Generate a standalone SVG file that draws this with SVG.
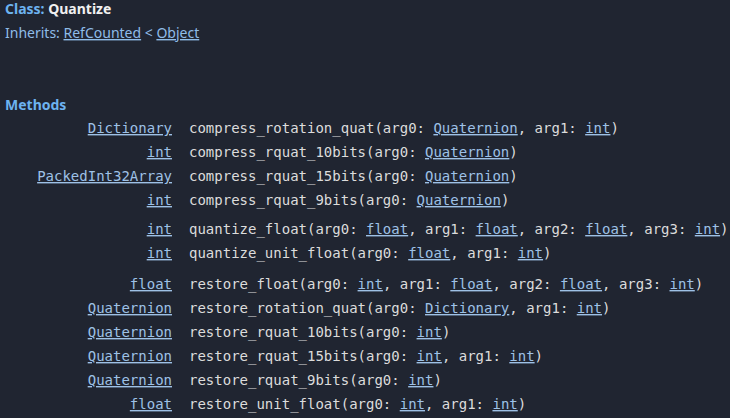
<svg xmlns="http://www.w3.org/2000/svg" width="730" height="418" viewBox="0 0 730 418">
<style>
.h{font-family:"Noto Sans","Open Sans",sans-serif;font-size:14px;font-weight:bold;fill:#6db3f0}
.s{font-family:"Noto Sans","Open Sans",sans-serif;font-size:14px;fill:#8fbce8}
.w{fill:#f0f0f0}
.m{font-family:"DejaVu Sans Mono","Liberation Mono",monospace;font-size:14px;fill:#dcdcdc}
.l{fill:#9ec1e6;text-decoration:underline}
.t{text-anchor:end}
</style>
<rect width="730" height="418" fill="#202531"/>
<g id="header">
<text class="h" x="5" y="14">Class: <tspan class="w">Quantize</tspan></text>
<text class="s" x="5" y="38">Inherits: <tspan text-decoration="underline">RefCounted</tspan> &lt; <tspan text-decoration="underline">Object</tspan></text>
<text class="h" x="5" y="110">Methods</text>
</g>
<g id="methods" class="m">
<text class="m l t" x="172" y="133">Dictionary</text>
<text class="m" x="189" y="133">compress_rotation_quat(arg0: <tspan class="l">Quaternion</tspan>, arg1: <tspan class="l">int</tspan>)</text>
<text class="m l t" x="172" y="157">int</text>
<text class="m" x="189" y="157">compress_rquat_10bits(arg0: <tspan class="l">Quaternion</tspan>)</text>
<text class="m l t" x="172" y="181">PackedInt32Array</text>
<text class="m" x="189" y="181">compress_rquat_15bits(arg0: <tspan class="l">Quaternion</tspan>)</text>
<text class="m l t" x="172" y="205">int</text>
<text class="m" x="189" y="205">compress_rquat_9bits(arg0: <tspan class="l">Quaternion</tspan>)</text>
<text class="m l t" x="172" y="234">int</text>
<text class="m" x="189" y="234">quantize_float(arg0: <tspan class="l">float</tspan>, arg1: <tspan class="l">float</tspan>, arg2: <tspan class="l">float</tspan>, arg3: <tspan class="l">int</tspan>)</text>
<text class="m l t" x="172" y="258">int</text>
<text class="m" x="189" y="258">quantize_unit_float(arg0: <tspan class="l">float</tspan>, arg1: <tspan class="l">int</tspan>)</text>
<text class="m l t" x="172" y="289">float</text>
<text class="m" x="189" y="289">restore_float(arg0: <tspan class="l">int</tspan>, arg1: <tspan class="l">float</tspan>, arg2: <tspan class="l">float</tspan>, arg3: <tspan class="l">int</tspan>)</text>
<text class="m l t" x="172" y="313">Quaternion</text>
<text class="m" x="189" y="313">restore_rotation_quat(arg0: <tspan class="l">Dictionary</tspan>, arg1: <tspan class="l">int</tspan>)</text>
<text class="m l t" x="172" y="337">Quaternion</text>
<text class="m" x="189" y="337">restore_rquat_10bits(arg0: <tspan class="l">int</tspan>)</text>
<text class="m l t" x="172" y="361">Quaternion</text>
<text class="m" x="189" y="361">restore_rquat_15bits(arg0: <tspan class="l">int</tspan>, arg1: <tspan class="l">int</tspan>)</text>
<text class="m l t" x="172" y="385">Quaternion</text>
<text class="m" x="189" y="385">restore_rquat_9bits(arg0: <tspan class="l">int</tspan>)</text>
<text class="m l t" x="172" y="409">float</text>
<text class="m" x="189" y="409">restore_unit_float(arg0: <tspan class="l">int</tspan>, arg1: <tspan class="l">int</tspan>)</text>
</g>
</svg>
